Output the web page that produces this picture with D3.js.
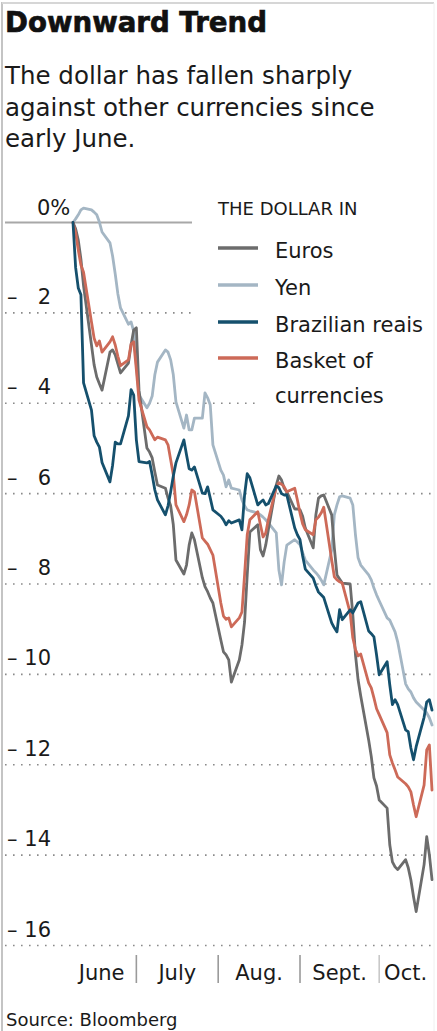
<!DOCTYPE html>
<html><head><meta charset="utf-8">
<script src="https://cdn.jsdelivr.net/npm/d3@7"></script>
<style>
html,body{margin:0;padding:0;background:#fff;}
svg{display:block;}
text{font-family:"DejaVu Sans",sans-serif;fill:#1a1a1a;}
</style></head><body><svg id="chart" width="437" height="1031"></svg>
<script>
// ---------- data ----------
const title = "Downward Trend";
const subtitleLines = ["The dollar has fallen sharply", "against other currencies since", "early June."];
const legendTitle = "THE DOLLAR IN";
const seriesNames = ["Euros", "Yen", "Brazilian reais", "Basket of currencies"];
const startDate = "2010-06-07";
const endDate = "2010-10-21";
const yTicks = [0, -2, -4, -6, -8, -10, -12, -14, -16];
const yTickLabels = ["0%", "2", "4", "6", "8", "10", "12", "14", "16"];
const monthLabels = ["June", "July", "Aug.", "Sept.", "Oct."];
const sourceText = "Source: Bloomberg";

// percent change of the dollar, one value per weekday
const euros = [0, -0.14, -0.39, -0.81, -1.40,
  -2.71, -3.15, -3.42, -3.57, -3.71,
  -2.87, -2.82, -2.93, -3.13, -3.33,
  -3.11, -2.71, -2.38,
  -2.33, -3.71,
  -4.99, -5.08, -5.21, -5.52, -5.81,
  -5.88, -6.10, -6.27, -6.69, -7.47,
  -7.78, -7.58, -7.14, -6.87, -7.02,
  -7.86, -8.06, -8.17, -8.31, -8.42,
  -9.24, -9.50, -9.57, -9.68, -10.17,
  -9.68, -9.35, -8.84, -7.80, -6.85,
  -6.69, -7.24, -7.38, -7.14, -6.80,
  -5.81, -5.61, -5.70, -5.88, -5.96,
  -6.34, -6.34,
  -6.36, -6.50, -6.76,
  -7.20, -6.47, -6.10, -6.05, -6.03,
  -6.47, -7.20, -7.80, -7.89, -7.98,
  -8.00, -8.68, -9.56, -10.12, -10.48,
  -11.45, -11.82, -12.29, -12.47,
  -12.78,
  -12.96, -13.77, -14.15, -14.26, -14.32,
  -14.10, -14.28, -14.55, -14.92, -15.25,
  -14.21, -13.59, -13.99, -14.54];

const yen = [0, 0.08, 0.17, 0.28, 0.32,
  0.28, 0.23, 0.17, 0.01, -0.21,
  -0.45, -0.74, -1.14, -1.58, -1.89,
  -2.25, -2.20, -2.41,
  -3.15, -3.82,
  -4.10, -4.00, -3.84, -3.37, -3.09,
  -2.82, -2.87, -3.04, -3.37, -3.97,
  -4.55, -4.26, -4.59, -4.59, -4.33,
  -4.33, -3.77, -3.88, -4.04, -4.92,
  -5.48, -5.59, -5.85, -5.70, -5.88,
  -5.92, -6.14, -6.27, -6.36, -6.38,
  -6.43, -6.47, -6.52, -6.58, -6.65,
  -6.87, -7.69, -8.02, -7.51, -7.14,
  -7.02, -7.07,
  -7.13, -7.31, -7.47,
  -7.69, -7.75, -7.82, -7.91, -8.02,
  -7.25, -6.47, -6.25, -6.07, -6.05,
  -6.10, -6.25, -6.91, -7.42, -7.58,
  -7.80, -7.91, -8.09, -8.24,
  -8.37,
  -8.75, -8.80, -8.93, -9.06, -9.28,
  -10.21, -10.32, -10.39, -10.52, -10.61,
  -10.79, -10.85, -10.96, -11.12];

const reais = [0, -1.00, -1.45, -1.60, -3.55,
  -4.15, -4.72, -4.86, -4.97, -5.31,
  -5.74, -5.37, -4.86, -4.90, -4.90,
  -4.28, -3.70, -3.82,
  -4.81, -5.29,
  -5.32, -5.29, -5.59, -5.92, -6.14,
  -6.47, -6.27, -5.96, -5.61, -5.32,
  -4.81, -5.14, -5.45, -5.48, -5.41,
  -5.99, -6.00, -5.85, -6.10, -6.36,
  -6.50, -6.58, -6.69, -6.60, -6.65,
  -6.58, -6.80, -6.03, -5.56, -5.65,
  -6.25, -6.19, -6.14, -6.25, -6.22,
  -5.83, -5.87, -6.00, -6.03, -6.03,
  -6.76, -6.91,
  -7.02, -7.38, -7.67,
  -7.87, -8.04, -8.18, -8.24, -8.30,
  -8.86, -8.97, -9.06, -8.57, -8.79,
  -8.57, -8.64, -8.53, -8.42, -8.39,
  -9.04, -9.10, -9.17, -9.57,
  -10.01,
  -9.72, -10.23, -10.67, -10.56, -10.67,
  -11.23, -11.27, -11.63, -11.89, -11.60,
  -10.95, -10.61, -10.56, -10.79];

const basket = [0, -0.23, -0.61, -0.94, -1.10,
  -2.20, -2.56, -2.73, -2.62, -2.87,
  -2.64, -2.53, -2.71, -2.96, -3.17,
  -3.04, -2.69, -2.64,
  -3.26, -3.93,
  -4.52, -4.59, -4.70, -4.81, -4.75,
  -4.81, -4.92, -5.25, -5.58, -6.25,
  -6.62, -6.47, -6.25, -5.92, -5.96,
  -6.98, -7.05, -7.12, -7.24, -7.36,
  -8.42, -8.71, -8.78, -8.75, -8.95,
  -8.75, -8.62, -7.80, -6.91, -6.58,
  -6.40, -6.69, -6.96, -6.87, -6.58,
  -5.85, -5.76, -5.79, -5.85, -5.96,
  -5.88, -6.14,
  -6.43, -6.67, -6.80,
  -6.91, -6.58, -6.52, -6.43, -6.30,
  -7.47, -7.84, -7.91, -7.95, -7.98,
  -8.64, -9.19, -9.45, -9.59, -9.55,
  -10.19, -10.30, -10.52, -10.76,
  -10.89,
  -11.29, -11.78, -11.96, -12.11, -12.27,
  -12.42, -12.49, -12.60, -12.89, -13.15,
  -12.45, -11.67, -11.56, -12.56];

// ---------- chart ----------
const parse = d3.timeParse("%Y-%m-%d");
const d0 = parse(startDate), d1 = parse(endDate);
const days = d3.timeDay.range(d0, d3.timeDay.offset(d1, 1))
  .filter(d => d.getDay() !== 0 && d.getDay() !== 6);

const colors = {"Euros": "#6c6c6c", "Yen": "#a4b6c4", "Brazilian reais": "#15506d", "Basket of currencies": "#cd6a58"};
const seriesData = {"Euros": euros, "Yen": yen, "Brazilian reais": reais, "Basket of currencies": basket};
const drawOrder = ["Yen", "Euros", "Basket of currencies", "Brazilian reais"];

const svg = d3.select("#chart");
const W = 437, H = 1031;

const x = d3.scaleTime().domain([d0, d1]).range([73, 432]);
const y = d3.scaleLinear().domain([0, -16]).range([222.5, 945.5]);

// frame
svg.append("line").attr("x1", 2).attr("x2", 2).attr("y1", 2).attr("y2", H).attr("stroke", "#c4c4c4").attr("stroke-width", 2);
svg.append("line").attr("x1", 2).attr("x2", 434).attr("y1", 3).attr("y2", 3).attr("stroke", "#d6d6d6").attr("stroke-width", 2);
svg.append("line").attr("x1", 434).attr("x2", 434).attr("y1", 3).attr("y2", H).attr("stroke", "#f0f0f0").attr("stroke-width", 1);

// title & subtitle
svg.append("text").attr("x", 5).attr("y", 32).text(title)
  .style("font-size", "29px").style("font-weight", "bold")
  .style("stroke", "#111").style("stroke-width", "0.7px").style("fill", "#111")
  .attr("textLength", 262).attr("lengthAdjust", "spacingAndGlyphs");
svg.append("g").selectAll("text").data(subtitleLines).join("text")
  .attr("x", 5).attr("y", (d, i) => 84 + i * 31.5)
  .style("font-size", "24.5px").text(d => d);

// gridlines
function gridEnd(t) {
  if (t === 0) return 192;
  if (t === -2) return 193;
  if (t === -4) return 255;
  return 433;
}
const grid = svg.append("g");
grid.selectAll("line").data(yTicks).join("line")
  .attr("x1", 5).attr("x2", d => gridEnd(d))
  .attr("y1", d => y(d)).attr("y2", d => y(d))
  .attr("stroke", d => d === 0 ? "#a8a8a8" : "#8a8a8a")
  .attr("stroke-width", d => d === 0 ? 2 : 1.6)
  .attr("stroke-dasharray", d => d === 0 ? null : "1.6,6.4");

// y labels
const yl = svg.append("g").style("font-size", "21px");
yTicks.forEach((t, i) => {
  if (t === 0) {
    yl.append("text").attr("x", 37).attr("y", y(t) - 8).text(yTickLabels[i]);
  } else {
    yl.append("text").attr("x", 7).attr("y", y(t) - 9).text("\u2013");
    yl.append("text").attr("x", 51).attr("y", y(t) - 9).attr("text-anchor", "end").text(yTickLabels[i]);
  }
});

// lines
const line = d3.line().x((d, i) => x(days[i])).y(d => y(d)).curve(d3.curveLinear);
svg.append("g").selectAll("path").data(drawOrder).join("path")
  .attr("d", k => line(seriesData[k]))
  .attr("fill", "none").attr("stroke", k => colors[k])
  .attr("stroke-width", 2.8).attr("stroke-linejoin", "round").attr("stroke-linecap", "round");

// legend
const lg = svg.append("g");
lg.append("text").attr("x", 218).attr("y", 215).style("font-size", "18px").text(legendTitle);
const legY = [248, 285, 322, 358];
seriesNames.forEach((name, i) => {
  lg.append("line").attr("x1", 218).attr("x2", 258).attr("y1", legY[i]).attr("y2", legY[i])
    .attr("stroke", colors[name]).attr("stroke-width", 3.5);
  const t = lg.append("text").attr("x", 275).attr("y", legY[i] + 10).style("font-size", "21px");
  if (name === "Basket of currencies") {
    t.append("tspan").attr("x", 275).text("Basket of");
    t.append("tspan").attr("x", 275).attr("dy", 35).text("currencies");
  } else {
    t.text(name);
  }
});

// month axis
const months = d3.timeMonth.range(d3.timeMonth.floor(d0), d3.timeMonth.offset(d3.timeMonth.floor(d1), 1));
const ax = svg.append("g");
months.forEach((m, i) => {
  const next = d3.timeMonth.offset(m, 1);
  const a = Math.max(x.range()[0], x(m));
  const b = Math.min(x.range()[1], x(next));
  ax.append("text").attr("x", (a + b) / 2 - (i === 0 ? 3 : 0)).attr("y", 980).attr("text-anchor", "middle")
    .style("font-size", "21px").text(monthLabels[i]);
  if (i > 0) {
    ax.append("line").attr("x1", x(m)).attr("x2", x(m)).attr("y1", 955).attr("y2", 983)
      .attr("stroke", i === months.length - 1 ? "#c8c8c8" : "#9a9a9a").attr("stroke-width", 1.6);
  }
});

// source
svg.append("text").attr("x", 6).attr("y", 1026).style("font-size", "18px").text(sourceText);
</script></body></html>
